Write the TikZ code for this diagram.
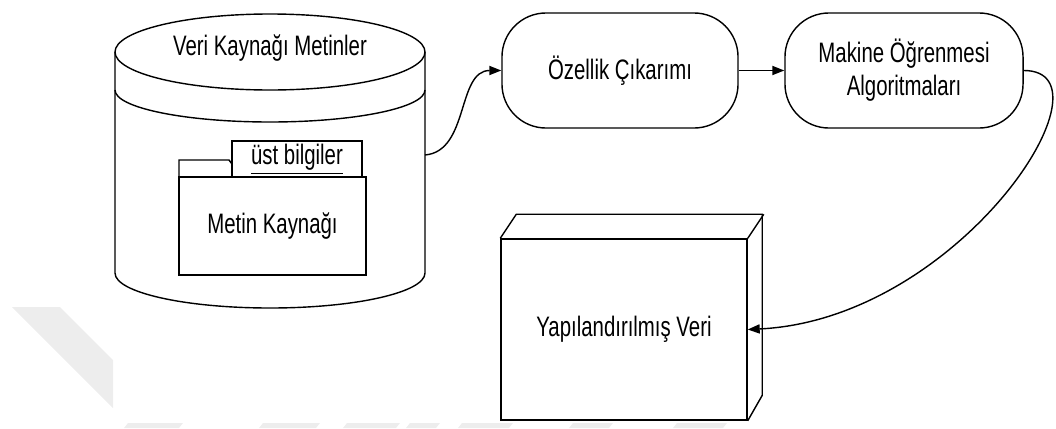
\documentclass[tikz,border=0pt]{standalone}
\usepackage{fontspec}
\setmainfont{Liberation Sans}
\usetikzlibrary{arrows.meta}

\newcommand\tallTxt[1]{\scalebox{1}[1.38]{#1}}

\tikzset{
  procbox/.style={draw,rounded corners=1.1cm,minimum height=2.875cm,inner sep=0pt,align=center},
  plainbox/.style={draw,inner sep=0pt},
  mark band/.style={fill=black!7,draw=none}
}

\begin{document}
\begin{tikzpicture}[x=0.025cm,y=-0.025cm,line width=1pt,
    >={Triangle[length=8.5pt,width=6.5pt]},
    every node/.style={font=\fontsize{14.5}{18}\selectfont}]
\useasboundingbox (0,0) rectangle (1056,428);

\fill[mark band] (12,307) -- (60,307) -- (113,360) -- (113,408) -- cycle;
\foreach\a/\b in {128/183,263/320,347/400,410/440,462/513,573/613,677/727}{
  \fill[mark band] (\a,423) -- (\b,423) -- (\b-4,428) -- (\a-4,428) -- cycle;};

\draw (270,52) ellipse[x radius=155,y radius=38];
\draw (115,90) arc[start angle=180,end angle=0,x radius=155,y radius=32];
\draw (115,52) -- (115,273) arc[start angle=180,end angle=0,x radius=155,y radius=35]
      -- (425,52);
\node (kaynak) at (270,48) {\tallTxt{Veri Kaynağı Metinler}};
\coordinate (kaynakR) at (425,155);

\node[plainbox,minimum width=3.25cm,minimum height=0.9cm] (ust) at (297,159) {\tallTxt{\underline{üst bilgiler}}};
\draw (179,177) -- (179,160) -- (229,160) -- (232,164);
\node[plainbox,minimum width=4.675cm,minimum height=2.45cm] (metin) at (272.5,226) {\tallTxt{Metin Kaynağı}};

\node[procbox,minimum width=5.9cm] (ozellik) at (620,70.5) {\tallTxt{Özellik Çıkarımı}};
\node[procbox,minimum width=5.95cm,font=\fontsize{14.5}{23.5}\selectfont] (makine) at (904,70.5)
     {\tallTxt{Makine Öğrenmesi}\\\tallTxt{Algoritmaları}};

\node[plainbox,minimum width=6.15cm,minimum height=4.525cm] (yap) at (624,329.5) {\tallTxt{Yapılandırılmış Veri}};
\draw (yap.north west) -- ++(16,-24) -- ++(246,0) -- ++(0,181) -- (yap.south east);
\draw (yap.north east) -- ++(16,-24);

\draw[->] (kaynakR) to[out=5,in=180] (ozellik.west);
\draw[->] (ozellik) -- (makine);
\draw[->] (makine.east) .. controls +(97,0) and +(213,-10) .. (yap.east);
\end{tikzpicture}
\end{document}
